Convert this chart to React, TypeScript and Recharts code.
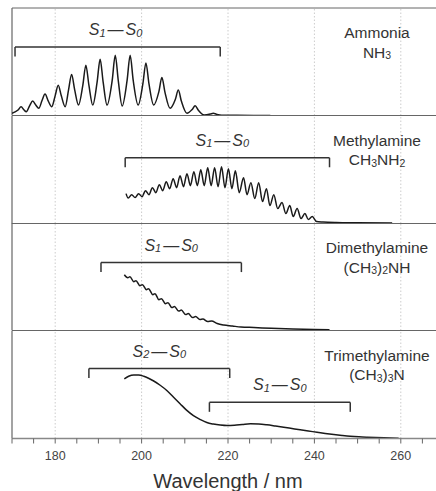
import { LineChart, Line, XAxis, YAxis, ReferenceLine } from 'recharts';

// wavelength axis (nm)
const wlTicks = [170, 175, 180, 185, 190, 195, 200, 205, 210, 215, 220, 225, 230, 235, 240, 245, 250, 255, 260, 265, 270];
const wlLabelled = [180, 200, 220, 240, 260];
const gridLines = [180, 200, 220, 240, 260];

// absorption in arbitrary units: [nm, value]
const ammonia: [number, number][] = [
  [170.0, 2.2], [171.4, 5.5], [172.1, 8.8], [172.8, 5.5], [173.3, 3.8],
  [174.1, 10], [174.8, 14.5], [175.5, 10.5], [176.2, 7.2],
  [176.95, 15], [177.65, 21.5], [178.35, 15], [179.2, 8.8],
  [180.0, 20], [180.7, 30.5], [181.4, 20], [182.3, 8.8],
  [183.1, 26], [183.8, 41.2], [184.5, 26], [185.4, 10.5],
  [186.4, 30.5], [187.1, 50.5], [187.8, 30.5], [188.7, 10.5],
  [189.7, 33.5], [190.4, 56.5], [191.1, 33.5], [192.0, 10.5],
  [193.2, 35.5], [193.9, 60.5], [194.6, 35], [195.5, 9.5],
  [196.65, 35.5], [197.35, 60.5], [198.05, 35.5], [199.2, 10.5],
  [200.3, 32], [201.0, 52.8], [201.7, 32], [202.8, 10.5],
  [204.0, 24], [204.7, 38.2], [205.4, 23.5], [206.6, 7.2],
  [207.8, 16], [208.5, 25.5], [209.2, 14.5], [210.5, 2.2],
  [211.7, 6], [212.4, 9.8], [213.1, 5.5], [214.5, 0.5],
  [215.9, 1.4], [216.6, 2.2], [217.3, 1.3], [218.5, 0.3],
  [222.0, 0.2], [226.0, 0.1], [229.8, 0],
];

const methylamine: [number, number][] = [
  [196.4, 30], [196.9, 25.5], [197.7, 29], [198.5, 26], [199.3, 30], [200.1, 27],
  [200.9, 33], [201.7, 29], [202.5, 36], [203.3, 31], [204.1, 39], [204.9, 33],
  [205.7, 42], [206.5, 35], [207.3, 45], [208.1, 36], [208.9, 48], [209.7, 37],
  [210.5, 50], [211.3, 38], [212.1, 52], [212.9, 38], [213.7, 54], [214.5, 38],
  [215.3, 56], [216.1, 38], [216.9, 56], [217.7, 37], [218.5, 57], [219.3, 36],
  [220.1, 55], [220.9, 35], [221.7, 53], [222.6, 31], [223.6, 46], [224.4, 29],
  [225.3, 41], [226.2, 25], [227.1, 41], [228.0, 22], [228.9, 35], [229.7, 18],
  [230.6, 29], [231.5, 15], [232.5, 21], [233.4, 10], [234.3, 18], [235.1, 7],
  [236.0, 15], [236.9, 5], [237.8, 10], [238.6, 4], [239.5, 7], [240.5, 2],
  [242.0, 1.5], [245.0, 1], [250.0, 0.7], [258.0, 0.4],
];

const dimethylamine: [number, number][] = [
  [196.0, 56], [196.8, 53], [197.3, 54], [198.2, 49], [198.7, 50], [199.6, 45],
  [200.2, 46], [201.1, 41], [201.6, 42], [202.6, 36], [203.1, 37], [204.0, 31],
  [204.6, 32], [205.5, 27], [206.1, 28], [207.0, 23], [207.6, 24], [208.6, 19.5],
  [209.2, 20.5], [210.2, 16], [210.8, 17], [211.8, 13], [212.5, 14], [213.5, 11],
  [214.2, 11.5], [215.3, 9], [216.2, 9.5], [217.5, 7], [219.0, 5.5], [221.0, 4.5],
  [223.0, 3.5], [226.0, 3], [230.0, 2.2], [235.0, 1.5], [240.0, 1], [243.5, 0.8],
];

const trimethylamine: [number, number][] = [
  [196.0, 60], [197.0, 62.5], [198.2, 63.7], [199.3, 63.7], [200.5, 62.5], [201.6, 60.5],
  [202.7, 58], [204.3, 53.5], [205.9, 48], [207.4, 41.5], [208.9, 35], [210.4, 28.5],
  [212.0, 23], [213.6, 19], [215.1, 16], [216.6, 14.5], [218.2, 13.5], [219.8, 13],
  [221.5, 13.3], [223.3, 14], [225.2, 14.7], [227.1, 14.5], [229.0, 13.7], [231.0, 12.5],
  [232.9, 11.3], [234.8, 10], [236.7, 8.7], [238.6, 7.5], [240.6, 6.3], [242.5, 5.1],
  [244.5, 4], [246.4, 3.1], [248.3, 2.3], [250.3, 1.7], [252.2, 1.3], [256.1, 0.7],
  [259.5, 0.3],
];

// band assignments: upper state, wavelength span, bracket height
type Band = { upper: string; from: number; to: number; level: number; dx?: number };
const ammoniaBands: Band[] = [{ upper: '1', from: 170.7, to: 218.2, level: 68.8, dx: -2 }];
const methylBands: Band[] = [{ upper: '1', from: 196.2, to: 243.5, level: 66, dx: -5 }];
const dimethylBands: Band[] = [{ upper: '1', from: 190.6, to: 223.1, level: 68.2 }];
const trimethylBands: Band[] = [
  { upper: '2', from: 187.8, to: 220.4, level: 70.3 },
  { upper: '1', from: 215.7, to: 248.3, level: 36.3 },
];

type Part = [string, boolean];
const panels: { name: string; formula: Part[]; data: [number, number][]; bands: Band[] }[] = [
  { name: 'Ammonia', formula: [['NH', false], ['3', true]], data: ammonia, bands: ammoniaBands },
  { name: 'Methylamine', formula: [['CH', false], ['3', true], ['NH', false], ['2', true]], data: methylamine, bands: methylBands },
  { name: 'Dimethylamine', formula: [['(CH', false], ['3', true], [')', false], ['2', true], ['NH', false]], data: dimethylamine, bands: dimethylBands },
  { name: 'Trimethylamine', formula: [['(CH', false], ['3', true], [')', false], ['3', true], ['N', false]], data: trimethylamine, bands: trimethylBands },
];

const PLOT_TOP = 8;
const PANEL_H = 107.5;
const LEFT = 12;
const CHART_W = 444;
const MT = 4;
const Y_MAX = 108;
const DROP = 9.5;
const INK = '#333';
const AXIS = '#666';
const FONT = '"Liberation Sans", Arial, sans-serif';

function BandLabel({ viewBox, band }: any) {
  const cx = viewBox.x + viewBox.width / 2 + (band.dx ?? 0);
  const y = viewBox.y - 12;
  return (
    <text x={cx} y={y} textAnchor="middle" fontSize={16} fontStyle="italic" fill={INK} fontFamily={FONT}>
      S<tspan fontSize={11} dy={1.5}>{band.upper}</tspan>
      <tspan dy={-1.5} dx={2}>—</tspan>
      <tspan dx={2}>S</tspan>
      <tspan fontSize={11} dy={1.5}>0</tspan>
    </text>
  );
}

function Formula({ parts }: { parts: Part[] }) {
  let shifted = false;
  return (
    <>
      {parts.map(([t, sub], k) => {
        const dy = sub && !shifted ? 1.5 : !sub && shifted ? -1.5 : 0;
        shifted = sub;
        return (
          <tspan key={k} dy={dy} fontSize={sub ? 10.5 : 15.5}>
            {t}
          </tspan>
        );
      })}
    </>
  );
}

function Panel({ index }: { index: number }) {
  const p = panels[index];
  const last = index === panels.length - 1;
  const xh = last ? 53 : 6;
  const rows = p.data.map(([wl, a]) => ({ wl, a }));
  return (
    <div style={{ position: 'absolute', left: 0, top: PLOT_TOP + index * PANEL_H - MT }}>
      <LineChart width={CHART_W} height={MT + PANEL_H + xh} data={rows} margin={{ top: MT, right: 0, bottom: 0, left: LEFT }}>
        <XAxis
          dataKey="wl"
          type="number"
          domain={[170, 270]}
          ticks={wlTicks}
          interval={0}
          allowDataOverflow
          height={xh}
          tickSize={last ? 5 : 3}
          tickMargin={8}
          axisLine={{ stroke: last ? '#888' : AXIS, strokeWidth: last ? 1.6 : 1 }}
          tickLine={{ stroke: AXIS }}
          tick={last ? { fill: '#444', fontSize: 12.5, fontFamily: FONT } : false}
          tickFormatter={(v: number) => (wlLabelled.includes(v) ? String(v) : '')}
          label={last ? { value: 'Wavelength / nm', position: 'insideBottom', offset: 4, fill: INK, fontSize: 20, fontFamily: FONT } : undefined}
        />
        {!last && (
          <XAxis
            xAxisId="in"
            type="number"
            domain={[170, 270]}
            ticks={wlTicks}
            interval={0}
            allowDataOverflow
            mirror
            axisLine={false}
            tickSize={3}
            tickLine={{ stroke: AXIS }}
            tick={false}
          />
        )}
        <YAxis hide domain={[0, Y_MAX]} allowDataOverflow />
        <ReferenceLine x={170} stroke={AXIS} strokeWidth={1.2} />
        {index === 0 && <ReferenceLine y={Y_MAX} stroke={AXIS} />}
        {gridLines.map((g) => (
          <ReferenceLine key={g} x={g} stroke="#cccccc" strokeDasharray="1.5 2" />
        ))}
        {p.bands.map((b, k) => (
          <ReferenceLine
            key={`h${k}`}
            segment={[{ x: b.from, y: b.level }, { x: b.to, y: b.level }]}
            stroke={INK}
            strokeWidth={1.5}
            label={(lp: any) => <BandLabel viewBox={lp.viewBox} band={b} />}
          />
        ))}
        {p.bands.map((b, k) => (
          <ReferenceLine key={`l${k}`} segment={[{ x: b.from, y: b.level }, { x: b.from, y: b.level - DROP }]} stroke={INK} strokeWidth={1.5} />
        ))}
        {p.bands.map((b, k) => (
          <ReferenceLine key={`r${k}`} segment={[{ x: b.to, y: b.level }, { x: b.to, y: b.level - DROP }]} stroke={INK} strokeWidth={1.5} />
        ))}
        <Line dataKey="a" type="monotone" stroke="#1a1a1a" strokeWidth={1.5} dot={false} isAnimationActive={false} />
      </LineChart>
    </div>
  );
}

export default function App() {
  return (
    <div
      style={{
        position: 'absolute',
        left: 0,
        top: 0,
        width: 436,
        height: 491,
        overflow: 'hidden',
        background: '#fff',
        fontFamily: FONT,
      }}
    >
      {panels.map((_, i) => (
        <Panel key={i} index={i} />
      ))}
      <svg width={436} height={491} style={{ position: 'absolute', left: 0, top: 0 }}>
        {panels.map((p, i) => (
          <g key={p.name} fill={INK} fontSize={15.5} fontFamily={FONT}>
            <text x={377} y={PLOT_TOP + i * PANEL_H + 30} textAnchor="middle">
              {p.name}
            </text>
            <text x={377} y={PLOT_TOP + i * PANEL_H + 49.5} textAnchor="middle">
              <Formula parts={p.formula} />
            </text>
          </g>
        ))}
      </svg>
    </div>
  );
}
